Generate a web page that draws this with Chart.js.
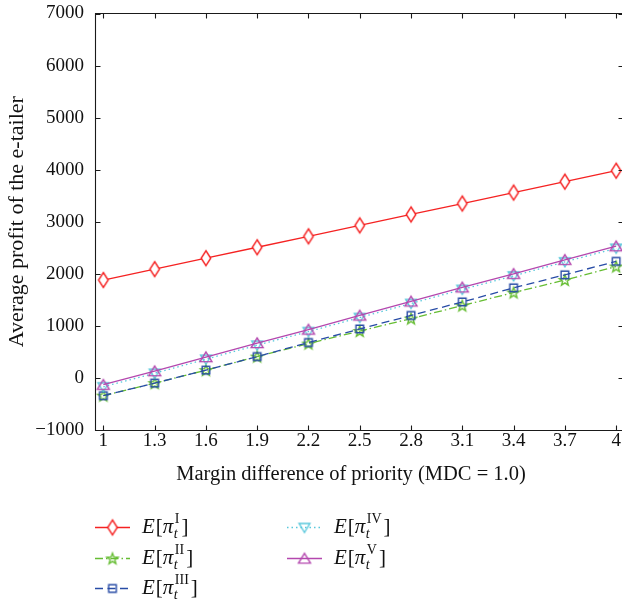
<!DOCTYPE html>
<html><head><meta charset="utf-8">
<script src="https://cdn.jsdelivr.net/npm/chart.js@4.4.1/dist/chart.umd.min.js"></script>
<style>
html,body{margin:0;padding:0;background:#fff;overflow:hidden;}
#wrap{width:622px;height:608px;overflow:hidden;position:relative;background:#fff;}
canvas{display:block;}
</style></head><body>
<div id="wrap"><canvas id="c" width="632" height="608" style="width:632px;height:608px"></canvas></div>
<script>
// ---- data ----
const xValues = [1, 1.3, 1.6, 1.9, 2.2, 2.5, 2.8, 3.1, 3.4, 3.7, 4];
const xTickLabels = ['1', '1.3', '1.6', '1.9', '2.2', '2.5', '2.8', '3.1', '3.4', '3.7', '4'];
const yTicks = [-1000, 0, 1000, 2000, 3000, 4000, 5000, 6000, 7000];
const seriesI   = [1880, 2090, 2300, 2510, 2720, 2930, 3140, 3350, 3560, 3770, 3980];
const seriesII  = [-340, -100, 150, 410, 660, 900, 1140, 1390, 1640, 1880, 2140];
const seriesIII = [-340, -100, 150, 410, 680, 940, 1200, 1460, 1730, 1980, 2240];
const seriesIV  = [-170, 90, 360, 630, 890, 1160, 1430, 1700, 1960, 2230, 2490];
const seriesV   = [-130, 130, 400, 670, 930, 1200, 1470, 1740, 2000, 2270, 2530];
const seriesNumerals = ['I', 'II', 'III', 'IV', 'V'];
const xTitle = 'Margin difference of priority (MDC = 1.0)';
const yTitle = 'Average profit of the e-tailer';

const FONT = '"Liberation Serif", "Times New Roman", serif';
const colors = ['#f52222', '#66bd33', '#284ca6', '#58c8dc', '#b447ae'];

// ---- marker images ----
function makeMarker(kind, color) {
  const c = document.createElement('canvas');
  c.width = 22; c.height = 22;
  const g = c.getContext('2d');
  g.strokeStyle = color; g.lineWidth = 1.4; g.fillStyle = '#fff';
  const cx = 11, cy = 11;
  g.beginPath();
  if (kind === 'diamond') {
    g.moveTo(cx, cy - 7.5); g.lineTo(cx + 4.8, cy); g.lineTo(cx, cy + 7.5); g.lineTo(cx - 4.8, cy); g.closePath();
    g.fill(); g.stroke();
  } else if (kind === 'star') {
    for (let i = 0; i < 10; i++) {
      const r = i % 2 === 0 ? 5.8 : 2.4;
      const a = -Math.PI / 2 + i * Math.PI / 5;
      const px = cx + r * Math.cos(a), py = cy + 0.5 + r * Math.sin(a);
      if (i === 0) g.moveTo(px, py); else g.lineTo(px, py);
    }
    g.closePath(); g.stroke();
  } else if (kind === 'square') {
    g.rect(cx - 3.8, cy - 3.8, 7.6, 7.6); g.stroke();
  } else if (kind === 'tridown') {
    g.moveTo(cx - 5.4, cy - 4); g.lineTo(cx + 5.4, cy - 4); g.lineTo(cx, cy + 5); g.closePath(); g.stroke();
  } else if (kind === 'triup') {
    g.moveTo(cx, cy - 5.2); g.lineTo(cx + 6, cy + 4.6); g.lineTo(cx - 6, cy + 4.6); g.closePath(); g.stroke();
  }
  return c;
}
const markers = [
  makeMarker('diamond', colors[0]),
  makeMarker('star', colors[1]),
  makeMarker('square', colors[2]),
  makeMarker('tridown', colors[3]),
  makeMarker('triup', colors[4])
];
const dashes = [[], [8, 3, 1.5, 3], [8, 4.5], [1.5, 3], []];
const allSeries = [seriesI, seriesII, seriesIII, seriesIV, seriesV];

const datasets = allSeries.map((s, k) => ({
  label: 'E[π_t^' + seriesNumerals[k] + ']',
  data: xValues.map((x, i) => ({x: x, y: s[i]})),
  borderColor: colors[k],
  backgroundColor: colors[k],
  borderWidth: 1.3,
  borderDash: dashes[k],
  pointStyle: markers[k],
  pointRadius: 5,
  pointHoverRadius: 5,
  tension: 0,
  order: 5 - k,
  clip: false
}));

// ---- frame, inward ticks, x title, legend ----
const framePlugin = {
  id: 'frame',
  afterDraw(chart) {
    const {ctx, chartArea: a, scales: {x, y}} = chart;
    const L = Math.round(a.left) - 0.5, R = Math.round(a.right) - 0.5;
    const T = Math.round(a.top) - 0.5, B = Math.round(a.bottom) + 0.5;
    ctx.save();
    ctx.strokeStyle = '#1a1a1a'; ctx.lineWidth = 1.1; ctx.setLineDash([]);
    ctx.beginPath();
    ctx.rect(L, T, R - L, B - T);
    x.ticks.forEach(t => {
      const px = Math.round(x.getPixelForValue(t.value)) + 0.5;
      ctx.moveTo(px, B); ctx.lineTo(px, B - 5);
      ctx.moveTo(px, T); ctx.lineTo(px, T + 5);
    });
    y.ticks.forEach(t => {
      const py = Math.round(y.getPixelForValue(t.value)) + 0.5;
      ctx.moveTo(L, py); ctx.lineTo(L + 5, py);
      ctx.moveTo(R, py); ctx.lineTo(R - 5, py);
    });
    ctx.stroke();

    // x axis title
    ctx.fillStyle = '#111'; ctx.textAlign = 'center'; ctx.textBaseline = 'alphabetic';
    ctx.font = '20.5px ' + FONT;
    ctx.fillText(xTitle, 351, 480);

    // legend
    const pos = [[95, 527], [95, 558], [95, 588], [287, 527], [287, 558]];
    chart.data.datasets.forEach((ds, k) => {
      const [x0, yc] = pos[k];
      ctx.save();
      ctx.strokeStyle = ds.borderColor; ctx.lineWidth = 1.3;
      ctx.setLineDash(ds.borderDash || []);
      ctx.beginPath(); ctx.moveTo(x0, yc + 0.5); ctx.lineTo(x0 + 35, yc + 0.5); ctx.stroke();
      ctx.setLineDash([]);
      const m = ds.pointStyle;
      ctx.drawImage(m, x0 + 17.5 - m.width / 2, yc + 0.5 - m.height / 2);
      let tx = x0 + 47; const base = yc + 6;
      ctx.fillStyle = '#111'; ctx.textBaseline = 'alphabetic'; ctx.textAlign = 'left';
      ctx.font = 'italic 21px ' + FONT; ctx.fillText('E', tx, base); tx += ctx.measureText('E').width + 1;
      ctx.font = '21px ' + FONT; ctx.fillText('[', tx, base); tx += ctx.measureText('[').width;
      ctx.font = 'italic 21px ' + FONT; ctx.fillText('π', tx, base); tx += ctx.measureText('π').width + 0.5;
      ctx.font = 'italic 14px ' + FONT; ctx.fillText('t', tx, base + 5); const tw = ctx.measureText('t').width;
      ctx.font = '14px ' + FONT; ctx.fillText(seriesNumerals[k], tx + 1, base - 10); const nw = ctx.measureText(seriesNumerals[k]).width + 1;
      tx += Math.max(tw, nw) + 2;
      ctx.font = '21px ' + FONT; ctx.fillText(']', tx, base);
      ctx.restore();
    });
    ctx.restore();
  }
};

new Chart(document.getElementById('c'), {
  type: 'line',
  data: {datasets: datasets},
  options: {
    responsive: false,
    animation: false,
    devicePixelRatio: 1,
    layout: {padding: {left: 0, right: 8, top: 13.5, bottom: 123}},
    plugins: {legend: {display: false}, tooltip: {enabled: false}},
    scales: {
      x: {
        type: 'linear', min: 0.957, max: 4.046,
        afterBuildTicks: s => { s.ticks = xValues.map(v => ({value: v})); },
        afterFit: s => { s.height = 55; s.paddingLeft = 0; s.paddingRight = 0; },
        grid: {display: false, drawTicks: false},
        border: {display: false},
        ticks: {
          autoSkip: false, maxRotation: 0, padding: 0, color: '#111',
          font: {family: FONT, size: 19},
          callback: (v, i) => xTickLabels[i]
        },
        title: {display: false}
      },
      y: {
        type: 'linear', min: -1000, max: 7000,
        afterBuildTicks: s => { s.ticks = yTicks.map(v => ({value: v})); },
        afterFit: s => { s.width = 96; s.paddingTop = 0; s.paddingBottom = 0; },
        grid: {display: false, drawTicks: false},
        border: {display: false},
        ticks: {
          padding: 12, color: '#111',
          font: {family: FONT, size: 19},
          callback: v => (v < 0 ? '\u2212' + Math.abs(v) : String(v))
        },
        title: {display: true, text: yTitle, color: '#111', font: {family: FONT, size: 22}, padding: {top: 4.4, bottom: 0}}
      }
    }
  },
  plugins: [framePlugin]
});
</script>
</body></html>
